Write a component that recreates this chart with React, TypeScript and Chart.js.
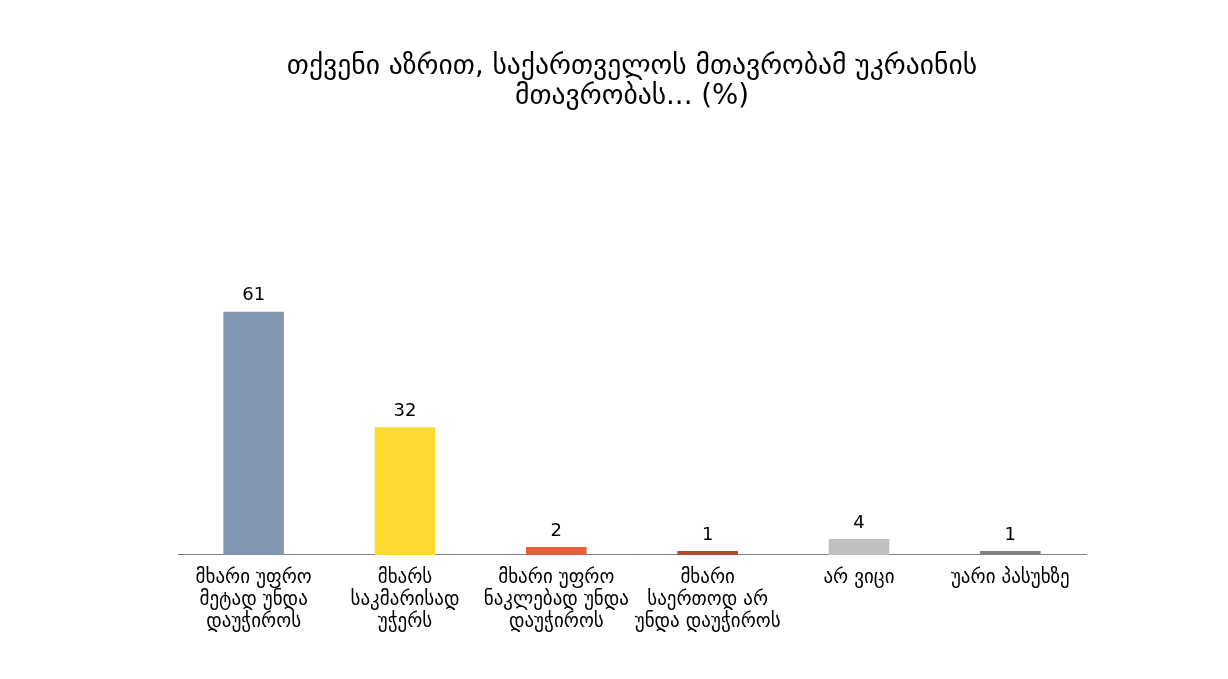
import { useRef, useEffect } from 'react';
import { Chart, registerables } from 'chart.js';

Chart.register(...registerables);

const titleLines = ['თქვენი აზრით, საქართველოს მთავრობამ უკრაინის', 'მთავრობას... (%)'];

const categories = [
  ['მხარი უფრო', 'მეტად უნდა', 'დაუჭიროს'],
  ['მხარს', 'საკმარისად', 'უჭერს'],
  ['მხარი უფრო', 'ნაკლებად უნდა', 'დაუჭიროს'],
  ['მხარი', 'საერთოდ არ', 'უნდა დაუჭიროს'],
  ['არ ვიცი'],
  ['უარი პასუხზე'],
];

const values = [61, 32, 2, 1, 4, 1];

const barColors = ['#8497B0', '#FFDA32', '#E85E3A', '#B0492D', '#BFBFBF', '#7F7F7F'];

const FONT = "'DejaVu Sans', sans-serif";

// draws the value above each bar
const valueLabels = {
  id: 'valueLabels',
  afterDatasetsDraw(chart: Chart) {
    const ctx = chart.ctx;
    const meta = chart.getDatasetMeta(0);
    ctx.save();
    ctx.font = `18px ${FONT}`;
    ctx.fillStyle = '#000';
    ctx.textAlign = 'center';
    ctx.textBaseline = 'bottom';
    meta.data.forEach((bar: any, i: number) => {
      ctx.fillText(String(values[i]), bar.x, bar.y - 7);
    });
    ctx.restore();
  },
};

const App = () => {
  const canvasRef = useRef<HTMLCanvasElement>(null);
  const chartRef = useRef<Chart | null>(null);

  useEffect(() => {
    if (!canvasRef.current) return;
    chartRef.current?.destroy();

    chartRef.current = new Chart(canvasRef.current, {
      type: 'bar',
      data: {
        labels: categories,
        datasets: [{
          data: values,
          backgroundColor: barColors,
          barPercentage: 0.4,
          categoryPercentage: 1,
        }],
      },
      plugins: [valueLabels],
      options: {
        animation: false,
        responsive: true,
        maintainAspectRatio: false,
        layout: { padding: { left: 178, right: 142, top: 0, bottom: 34 } },
        plugins: {
          legend: { display: false },
          tooltip: { enabled: false },
          title: {
            display: true,
            text: titleLines,
            fullSize: false,
            color: '#000',
            font: { family: FONT, size: 27.6, weight: 'normal', lineHeight: 1.09 },
            padding: { top: 52, bottom: 44 },
          },
        },
        scales: {
          x: {
            grid: { display: false, drawTicks: false },
            border: { display: true, color: '#7F7F7F', width: 1 },
            ticks: {
              color: '#000',
              padding: 12,
              maxRotation: 0,
              autoSkip: false,
              font: { family: FONT, size: 19, lineHeight: 1.16 },
            },
          },
          y: {
            display: false,
            min: 0,
            max: 100,
          },
        },
      },
    });

    return () => {
      chartRef.current?.destroy();
      chartRef.current = null;
    };
  }, []);

  return (
    <div style={{ position: 'absolute', left: 0, top: 0, width: 1228, height: 679, background: '#fff' }}>
      <canvas ref={canvasRef}></canvas>
    </div>
  );
};

export default App;
